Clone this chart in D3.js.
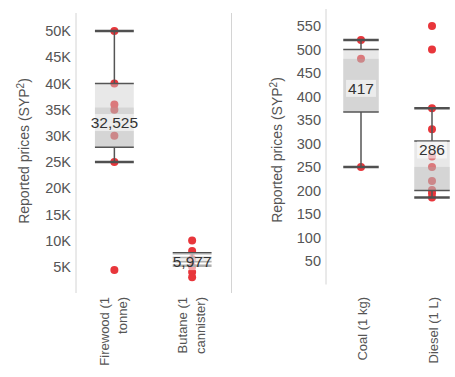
<!DOCTYPE html>
<html><head><meta charset="utf-8">
<script src="https://cdn.jsdelivr.net/npm/d3@7"></script>
<style>body{margin:0;background:#fff}svg{display:block;font-family:"Liberation Sans",Arial,Helvetica,sans-serif}</style>
</head><body><svg id="c" width="455" height="377"></svg>
<script>
// ---- data ----
const leftCategories = ["Firewood (1 tonne)", "Butane (1 cannister)"];
const leftLabelLines = [["Firewood (1", "tonne)"], ["Butane (1", "cannister)"]];
const firewoodPrices = [50000, 40000, 36000, 35000, 30000, 25000, 4400];
const butanePrices = [10000, 8000, 6500, 5000, 4000, 3000];
const leftWhiskerLow = [25000, 5200];
const leftQ1 = [27800, 5950];
const leftQ3 = [40000, 6800];
const leftWhiskerHigh = [50000, 7600];
const leftBandLow = [27800, 5950];
const leftBandHigh = [35400, 6400];
const leftLabels = [32525, 5977];
const leftTicks = [5000, 10000, 15000, 20000, 25000, 30000, 35000, 40000, 45000, 50000];

const rightCategories = ["Coal (1 kg)", "Diesel (1 L)"];
const rightLabelLines = [["Coal (1 kg)"], ["Diesel (1 L)"]];
const coalPrices = [520, 480, 250];
const dieselPrices = [550, 500, 375, 330, 272, 250, 220, 201, 194, 185];
const rightWhiskerLow = [250, 185];
const rightQ1 = [367, 200];
const rightQ3 = [500, 305];
const rightWhiskerHigh = [520, 375];
const rightBandLow = [367, 200];
const rightBandHigh = [480, 250];
const rightLabels = [417, 286];
const rightTicks = [50, 100, 150, 200, 250, 300, 350, 400, 450, 500, 550];

const svg = d3.select("#c");

function drawPanel(p) {
  const g = svg.append("g");
  const x = d3.scalePoint().domain(p.categories).range([p.x0, p.x1]).padding(0.5);
  const y = d3.scaleLinear().domain([0, p.yMax]).range([p.yBottom, p.yTop]);
  const bw = x.step() * 0.5;

  const axis = d3.axisLeft(y).tickValues(p.ticks).tickSize(0).tickPadding(4.5).tickFormat(p.fmt);
  const ag = g.append("g").attr("transform", `translate(${p.x0},0)`).call(axis);
  ag.select(".domain").attr("stroke", "#d4d4d4").attr("stroke-width", 1)
    .attr("d", `M0.5,${p.yTop}V${p.yBottom}`);
  ag.selectAll(".tick text").attr("fill", "#555").style("font-size", "14.5px")
    .style("font-family", '"Liberation Sans",Arial,sans-serif');
  if (p.border) {
    g.append("line").attr("x1", p.x1 + 0.5).attr("x2", p.x1 + 0.5)
      .attr("y1", p.yTop).attr("y2", p.yBottom).attr("stroke", "#d4d4d4");
  }

  const yt = g.append("text").attr("transform", `translate(${p.titleX},${p.titleY}) rotate(-90)`)
    .attr("text-anchor", "middle").attr("fill", "#555").style("font-size", "14px");
  yt.append("tspan").text("Reported prices (SYP");
  yt.append("tspan").attr("baseline-shift", "super").style("font-size", "10px").text("2");
  yt.append("tspan").text(")");

  p.categories.forEach((c, i) => {
    const cx = x(c);
    g.selectAll(null).data(p.values[i]).join("circle")
      .attr("cx", cx).attr("cy", d => y(d)).attr("r", 4).attr("fill", "#e8363b");
    g.append("rect").attr("x", cx - bw / 2).attr("width", bw)
      .attr("y", y(p.q3[i])).attr("height", y(p.q1[i]) - y(p.q3[i]))
      .attr("fill", "#cccccc").attr("fill-opacity", 0.45);
    g.append("rect").attr("x", cx - bw / 2).attr("width", bw)
      .attr("y", y(p.bandHigh[i])).attr("height", y(p.bandLow[i]) - y(p.bandHigh[i]))
      .attr("fill", "#a8a8a8").attr("fill-opacity", 0.3);
    g.append("line").attr("x1", cx).attr("x2", cx).attr("y1", y(p.wHigh[i])).attr("y2", y(p.q3[i]))
      .attr("stroke", "#555").attr("stroke-width", 1.5);
    g.append("line").attr("x1", cx).attr("x2", cx).attr("y1", y(p.q1[i])).attr("y2", y(p.wLow[i]))
      .attr("stroke", "#555").attr("stroke-width", 1.5);
    [p.q1[i], p.q3[i]].forEach(v => g.append("line")
      .attr("x1", cx - bw / 2).attr("x2", cx + bw / 2).attr("y1", y(v)).attr("y2", y(v))
      .attr("stroke", "#555").attr("stroke-width", 1.5));
    [p.wLow[i], p.wHigh[i]].forEach(v => g.append("line")
      .attr("x1", cx - bw / 2).attr("x2", cx + bw / 2).attr("y1", y(v)).attr("y2", y(v))
      .attr("stroke", "#505050").attr("stroke-width", 2.5));
    const lbl = g.append("g");
    const t = lbl.append("text").attr("x", cx).attr("y", y(p.labels[i])).attr("dy", "0.35em")
      .attr("text-anchor", "middle").attr("fill", "#333").style("font-size", "15.5px")
      .text(d3.format(",")(p.labels[i]));
    const bb = t.node().getBBox();
    lbl.insert("rect", "text").attr("x", bb.x - 2).attr("y", bb.y).attr("width", bb.width + 4)
      .attr("height", bb.height).attr("fill", "#ffffff").attr("fill-opacity", 0.55);

    const lines = p.labelLines[i];
    const xl = g.append("text").attr("transform", `translate(${cx},${p.xLabelY}) rotate(-90)`)
      .attr("text-anchor", "end").attr("fill", "#555").style("font-size", "13px");
    lines.forEach((ln, k) => {
      const off = lines.length === 1 ? 5.5 : (k === 0 ? -5 : 12.5);
      xl.append("tspan").attr("x", 0).attr("y", off).text(ln);
    });
  });
}

drawPanel({
  categories: leftCategories, labelLines: leftLabelLines,
  values: [firewoodPrices, butanePrices],
  wLow: leftWhiskerLow, q1: leftQ1, q3: leftQ3, wHigh: leftWhiskerHigh,
  bandLow: leftBandLow, bandHigh: leftBandHigh, labels: leftLabels,
  ticks: leftTicks, fmt: d => d3.format("d")(d / 1000) + "K",
  x0: 75.5, x1: 231, yMax: 53450, yTop: 13, yBottom: 293,
  titleX: 29, titleY: 151, xLabelY: 297, border: true
});
drawPanel({
  categories: rightCategories, labelLines: rightLabelLines,
  values: [coalPrices, dieselPrices],
  wLow: rightWhiskerLow, q1: rightQ1, q3: rightQ3, wHigh: rightWhiskerHigh,
  bandLow: rightBandLow, bandHigh: rightBandHigh, labels: rightLabels,
  ticks: rightTicks, fmt: d3.format("d"),
  x0: 325.5, x1: 467.5, yMax: 586, yTop: 9, yBottom: 284.5,
  titleX: 282, titleY: 150, xLabelY: 297, border: false
});
</script></body></html>
